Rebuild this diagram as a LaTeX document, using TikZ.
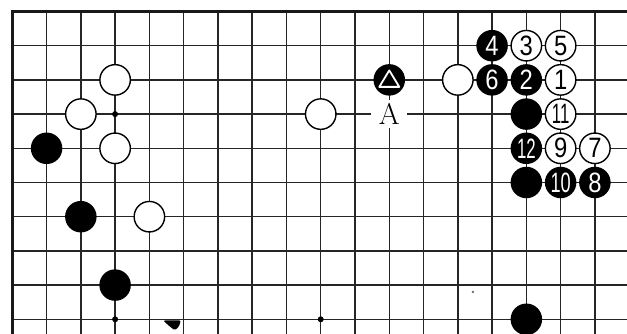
\documentclass[tikz,border=0pt]{standalone}
\usepackage{fontspec}
\newfontfamily\numfont{Liberation Sans}
\newcommand\stonenum[2]{{\numfont\fontsize{28pt}{30pt}\selectfont\scalebox{#1}[1]{#2}}}
\newcommand\boardletter[1]{{\fontsize{30pt}{32pt}\selectfont #1}}
\begin{document}
\begin{tikzpicture}[x=34.27pt,y=-34.2pt,
  gridline/.style={line width=1.5pt, black!85},
  edgeline/.style={line width=2.8pt, black!90, line join=miter},
  wstone/.style={circle, draw=black, line width=1.4pt, fill=white, minimum size=30.5pt, inner sep=0pt},
  bstone/.style={circle, fill=black, minimum size=31.5pt, inner sep=0pt},
  hoshi/.style={circle, fill=black, minimum size=6pt, inner sep=0pt},
  wnum/.style={wstone, text=black},
  bnum/.style={bstone, text=white},
  letter/.style={fill=white, inner sep=0pt, minimum width=36pt, minimum height=28pt},
]
\useasboundingbox (-0.359,-0.336) rectangle (17.937,9.401);
\fill[white] (-0.359,-0.336) rectangle (17.937,9.401);
% grid
\foreach \i in {1,...,17} \draw[gridline] (\i,0) -- (\i,9.5);
\foreach \j in {1,...,9} \draw[gridline] (0,\j) -- (18,\j);
\draw[edgeline] (0,9.5) -- (0,0) -- (18,0);
% star points
\node[hoshi] (h1) at (3,3) {};
\node[hoshi] (h2) at (3,9) {};
\node[hoshi] (h3) at (9,9) {};
% left side stones
\node[wstone] (w32) at (3,2) {};
\node[wstone] (w23) at (2,3) {};
\node[wstone] (w34) at (3,4) {};
\node[bstone] (b14) at (1,4) {};
\node[bstone] (b26) at (2,6) {};
\node[wstone] (w46) at (4,6) {};
\node[bstone] (b38) at (3,8) {};
% centre
\node[wstone] (w93) at (9,3) {};
\node[bstone] (btri) at (11,2) {};
\draw[white, line width=1.8pt, line join=round] ([yshift=9.5pt]btri.center) -- ([xshift=-10pt,yshift=-7pt]btri.center) -- ([xshift=10pt,yshift=-7pt]btri.center) -- cycle;
\node[letter] (A) at (11,3) {\boardletter{A}};
% right side
\node[wstone] (w132) at (13,2) {};
\node[bnum] (n4) at (14,1) {\stonenum{0.85}{4}};
\node[wnum] (n3) at (15,1) {\stonenum{0.85}{3}};
\node[wnum] (n5) at (16,1) {\stonenum{0.85}{5}};
\node[bnum] (n6) at (14,2) {\stonenum{0.85}{6}};
\node[bnum] (n2) at (15,2) {\stonenum{0.85}{2}};
\node[wnum] (n1) at (16,2) {\stonenum{0.85}{1}};
\node[bstone] (b153) at (15,3) {};
\node[wnum] (n11) at (16,3) {\stonenum{0.6}{11}};
\node[bnum] (n12) at (15,4) {\stonenum{0.6}{12}};
\node[wnum] (n9) at (16,4) {\stonenum{0.85}{9}};
\node[wnum] (n7) at (17,4) {\stonenum{0.85}{7}};
\node[bstone] (b155) at (15,5) {};
\node[bnum] (n10) at (16,5) {\stonenum{0.65}{10}};
\node[bnum] (n8) at (17,5) {\stonenum{0.85}{8}};
\node[bstone] (b159) at (15,9) {};
% specks of ink
\fill[black, rounded corners=1.5pt] (4.40,9.03) -- (4.92,9.03) -- (4.86,9.22) -- (4.74,9.32) -- (4.58,9.2) -- cycle;
\fill[black!60] (13.44,8.2) circle (1.3pt);
\end{tikzpicture}
\end{document}
